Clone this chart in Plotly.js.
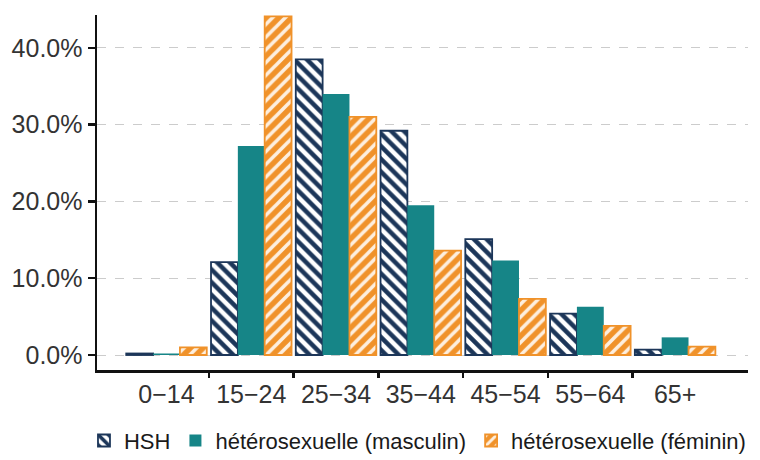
<!DOCTYPE html>
<html>
<head>
<meta charset="utf-8">
<script src="https://cdn.plot.ly/plotly-3.0.1.min.js"></script>
<style>html,body{margin:0;padding:0;background:#fff;}#chart{width:760px;height:460px;}</style>
</head>
<body>
<div id="chart"></div>
<script>
const categories = ["0\u221214", "15\u221224", "25\u221234", "35\u221244", "45\u221254", "55\u221264", "65+"];
const hsh = [0.2, 12.1, 38.5, 29.2, 15.1, 5.4, 0.7];
const heteroMasc = [0.2, 27.2, 34.0, 19.5, 12.3, 6.3, 2.3];
const heteroFem = [1.0, 44.1, 31.0, 13.6, 7.3, 3.8, 1.1];
const yTicks = [0, 10, 20, 30, 40];
const seriesNames = ["HSH", "hétérosexuelle (masculin)", "hétérosexuelle (féminin)"];

const idx = categories.map((c, i) => i);
const boundaries = idx.slice(0, -1).map(i => i + 0.5);

const navy = "#1c3659";
const teal = "#168587";
const orange = "#f0922a";

const traces = [
  {
    type: "bar", name: seriesNames[0], x: idx, y: hsh,
    marker: {color: "#ffffff", line: {color: navy, width: 1.8},
      pattern: {shape: "\\", fgcolor: navy, bgcolor: "#ffffff", fgopacity: 1, size: 9, solidity: 0.5, fillmode: "overlay"}}
  },
  {
    type: "bar", name: seriesNames[1], x: idx, y: heteroMasc,
    marker: {color: teal, line: {color: teal, width: 0}}
  },
  {
    type: "bar", name: seriesNames[2], x: idx, y: heteroFem,
    marker: {color: orange, line: {color: orange, width: 1.8},
      pattern: {shape: "/", fgcolor: "#ffffff", bgcolor: orange, fgopacity: 0.85, size: 9, solidity: 0.4, fillmode: "overlay"}}
  },
  {
    type: "scatter", x: boundaries, y: boundaries.map(() => null), xaxis: "x2", showlegend: false, hoverinfo: "skip"
  }
];

const xr = [-0.82, 6.86];
const layout = {
  width: 760, height: 460,
  margin: {l: 97, r: 12, t: 15, b: 90, autoexpand: false},
  paper_bgcolor: "#ffffff", plot_bgcolor: "#ffffff",
  font: {family: "Liberation Sans, Arial, sans-serif", color: "#333333", size: 22},
  barmode: "group", bargap: 0.05, bargroupgap: 0,
  showlegend: true,
  legend: {orientation: "h", x: -0.02, xanchor: "left", y: -0.14, yanchor: "top",
    font: {size: 22, color: "#1a1a1a"}, traceorder: "normal", itemwidth: 30, tracegroupgap: 0},
  xaxis: {
    range: xr, tickvals: idx, ticktext: categories, ticks: "", showgrid: false, zeroline: false,
    showline: true, linecolor: "#111111", linewidth: 2.5,
    tickfont: {size: 25, color: "#333333"}
  },
  xaxis2: {
    overlaying: "x", range: xr, tickvals: boundaries, showticklabels: false, ticks: "outside",
    ticklen: 7, tickwidth: 2.5, tickcolor: "#111111", showgrid: false, zeroline: false, showline: false,
    side: "bottom", anchor: "y"
  },
  yaxis: {
    range: [-1.95, 44.27], tickvals: yTicks, ticktext: yTicks.map(v => v.toFixed(1) + "%"),
    ticks: "outside", ticklen: 7, tickwidth: 2.5, tickcolor: "#111111",
    showline: true, linecolor: "#111111", linewidth: 2.5, zeroline: false,
    showgrid: true, gridcolor: "#cccccc", griddash: "dash", gridwidth: 1,
    tickfont: {size: 25, color: "#333333"}
  }
};

Plotly.newPlot("chart", traces, layout, {displayModeBar: false, staticPlot: true});
</script>
</body>
</html>
